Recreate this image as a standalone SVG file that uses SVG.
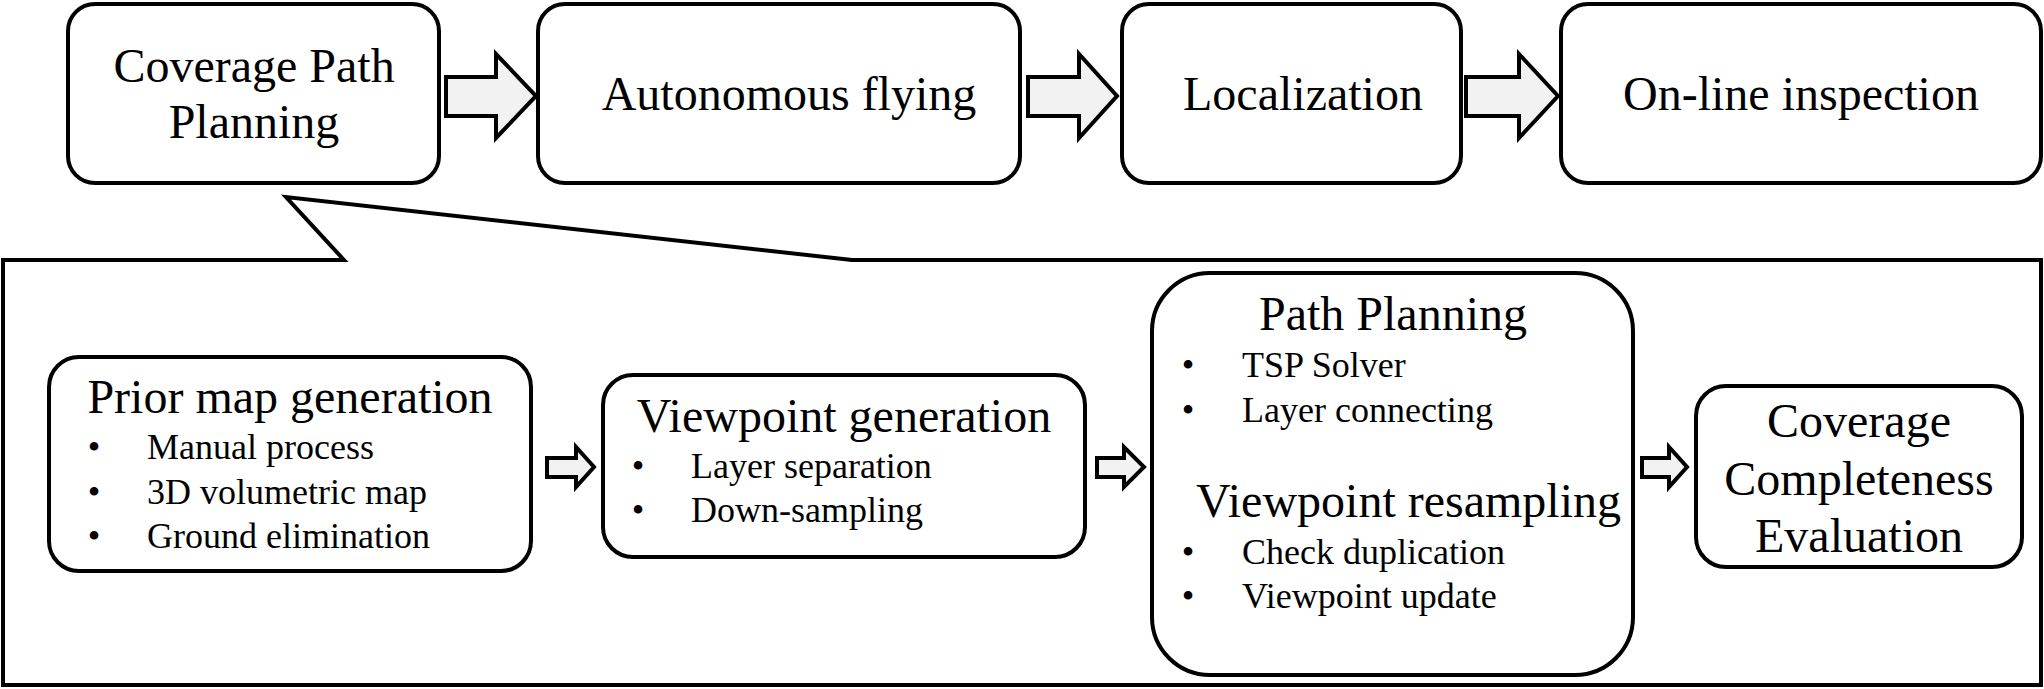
<svg xmlns="http://www.w3.org/2000/svg" width="2044" height="689" viewBox="0 0 2044 689">
<style>
.box{fill:#fff;stroke:#000;stroke-width:4}
.arr{fill:#f2f2f2;stroke:#000;stroke-width:4;stroke-linejoin:miter}
.callout{fill:none;stroke:#000;stroke-width:4;stroke-linejoin:miter}
text{font-family:"Liberation Serif","Times New Roman",serif;fill:#000}
.h{font-size:48px}
.b{font-size:36px}
.c{text-anchor:middle}
</style>
<rect width="2044" height="689" fill="#fff"/>
<g id="callout">
<path class="callout" d="M344 260 L286 197 L852 260 L2041 260 L2041 685 L3 685 L3 260 Z"/>
</g>
<g id="n-cpp">
<rect class="box" x="68" y="4" width="371" height="179" rx="27"/>
<text class="h c" x="254" y="82">Coverage Path</text>
<text class="h c" x="254" y="138">Planning</text>
</g>
<g id="n-fly">
<rect class="box" x="538" y="4" width="482" height="179" rx="27"/>
<text class="h c" x="789" y="110">Autonomous flying</text>
</g>
<g id="n-loc">
<rect class="box" x="1122" y="4" width="339" height="179" rx="27"/>
<text class="h c" x="1303" y="110">Localization</text>
</g>
<g id="n-insp">
<rect class="box" x="1561" y="4" width="480" height="179" rx="27"/>
<text class="h c" x="1801" y="110">On-line inspection</text>
</g>
<g id="n-prior">
<rect class="box" x="49" y="357" width="482" height="214" rx="30"/>
<text class="h c" x="290" y="413">Prior map generation</text>
<text class="b c" x="94" y="459">•</text><text class="b" x="147" y="459">Manual process</text>
<text class="b c" x="94" y="504">•</text><text class="b" x="147" y="504">3D volumetric map</text>
<text class="b c" x="94" y="548">•</text><text class="b" x="147" y="548">Ground elimination</text>
</g>
<g id="n-vpgen">
<rect class="box" x="603" y="375" width="482" height="182" rx="30"/>
<text class="h c" x="844" y="432">Viewpoint generation</text>
<text class="b c" x="638" y="478">•</text><text class="b" x="691" y="478">Layer separation</text>
<text class="b c" x="638" y="522">•</text><text class="b" x="691" y="522">Down-sampling</text>
</g>
<g id="n-path">
<rect class="box" x="1152" y="273" width="481" height="402" rx="58"/>
<text class="h c" x="1393" y="330">Path Planning</text>
<text class="b c" x="1188" y="377">•</text><text class="b" x="1242" y="377">TSP Solver</text>
<text class="b c" x="1188" y="422">•</text><text class="b" x="1242" y="422">Layer connecting</text>
<text class="h" x="1196" y="517">Viewpoint resampling</text>
<text class="b c" x="1188" y="564">•</text><text class="b" x="1242" y="564">Check duplication</text>
<text class="b c" x="1188" y="608">•</text><text class="b" x="1242" y="608">Viewpoint update</text>
</g>
<g id="n-eval">
<rect class="box" x="1696" y="386" width="326" height="181" rx="30"/>
<text class="h c" x="1859" y="437">Coverage</text>
<text class="h c" x="1859" y="495">Completeness</text>
<text class="h c" x="1859" y="552">Evaluation</text>
</g>
<g id="connectors">
<path class="arr" d="M446 77 L496 77 L496 54 L536 96 L496 138 L496 116 L446 116 Z"/>
<path class="arr" d="M1028 77 L1079 77 L1079 54 L1117 96 L1079 138 L1079 116 L1028 116 Z"/>
<path class="arr" d="M1466 77 L1519 77 L1519 54 L1558 96 L1519 138 L1519 116 L1466 116 Z"/>
<path class="arr" d="M547 458 L576 458 L576 447 L594 467 L576 487 L576 477 L547 477 Z"/>
<path class="arr" d="M1097 458 L1124 458 L1124 447 L1144 467 L1124 487 L1124 477 L1097 477 Z"/>
<path class="arr" d="M1642 458 L1669 458 L1669 447 L1687 467 L1669 487 L1669 477 L1642 477 Z"/>
</g>
</svg>
